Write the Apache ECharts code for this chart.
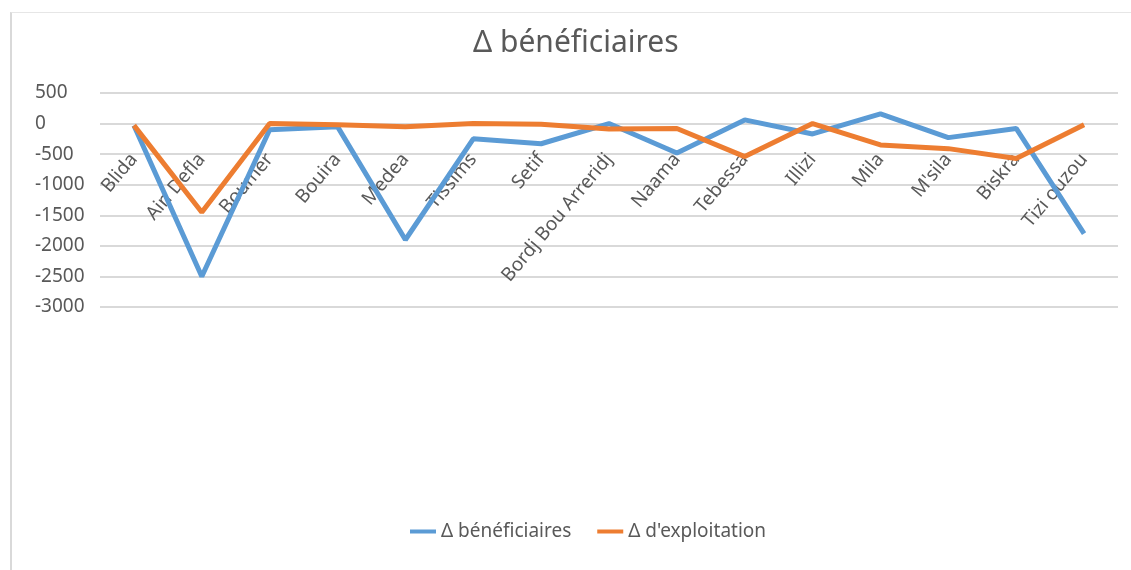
<!DOCTYPE html>
<html>
<head>
  <meta charset="UTF-8">
  <title>Δ bénéficiaires</title>
  <script src="https://cdn.jsdelivr.net/npm/echarts@6/dist/echarts.min.js"></script>
  <style>
    html, body { margin: 0; padding: 0; background: #fff; }
    #frame { position: absolute; left: 10px; top: 12px; width: 1121px; height: 558px; border-left: 2px solid #d9d9d9; border-top: 1px solid #e6e6e6; box-sizing: border-box; }
  </style>
</head>
<body>
<div id="frame"></div>
<div id="main" style="position:absolute; left:0; top:0; width:1131px; height:570px;"></div>

<script type="text/javascript">
  // categories (wilayas)
  var wilayas = ['Blida', 'Ain Defla', 'Boumer', 'Bouira', 'Medea', 'Tissims', 'Setif',
    'Bordj Bou Arreridj', 'Naama', 'Tebessa', 'Illizi', 'Mila', "M'sila", 'Biskra', 'Tizi ouzou'];

  // Δ bénéficiaires
  var deltaBenef = [-30, -2500, -100, -50, -1900, -250, -330, 0, -480, 60, -170, 160, -230, -80, -1800];

  // Δ d'exploitation
  var deltaExploit = [-30, -1450, 0, -20, -50, 0, -10, -90, -80, -540, 0, -350, -410, -570, -20];

  var myChart = echarts.init(document.getElementById('main'));

  var txtFont = '"Noto Sans", "Open Sans", sans-serif';

  var option = {
    animation: false,
    title: {
      text: 'Δ bénéficiaires',
      left: 468,
      top: 23,
      textStyle: { fontFamily: txtFont, fontSize: 30, fontWeight: 'normal', color: '#595959' }
    },
    legend: {
      bottom: 24,
      left: 405,
      icon: 'rect',
      itemWidth: 26,
      itemHeight: 4,
      itemGap: 26,
      textStyle: { fontFamily: txtFont, fontSize: 19, color: '#595959' },
      data: ['Δ bénéficiaires', "Δ d'exploitation"]
    },
    grid: {
      left: 100,
      right: 13,
      top: 93,
      bottom: 263,
      containLabel: false
    },
    xAxis: {
      type: 'category',
      data: wilayas,
      boundaryGap: true,
      offset: -155,
      axisLine: { show: false, onZero: false },
      axisTick: { show: false },
      axisLabel: {
        rotate: 50,
        interval: 0,
        margin: 4,
        fontFamily: txtFont,
        fontSize: 19,
        color: '#595959'
      }
    },
    yAxis: {
      type: 'value',
      min: -3000,
      max: 500,
      interval: 500,
      axisLine: { show: false },
      axisTick: { show: false },
      axisLabel: {
        fontFamily: txtFont,
        fontSize: 19,
        color: '#595959',
        align: 'left',
        margin: 65,
        formatter: function (v) { return String(v); }
      },
      splitLine: { lineStyle: { color: '#d9d9d9', width: 2 } }
    },
    series: [
      {
        name: 'Δ bénéficiaires',
        type: 'line',
        data: deltaBenef,
        symbol: 'none',
        lineStyle: { width: 5, color: '#5B9BD5' },
        itemStyle: { color: '#5B9BD5' }
      },
      {
        name: "Δ d'exploitation",
        type: 'line',
        data: deltaExploit,
        symbol: 'none',
        lineStyle: { width: 5, color: '#ED7D31' },
        itemStyle: { color: '#ED7D31' }
      }
    ]
  };

  myChart.setOption(option);
</script>
</body>
</html>
